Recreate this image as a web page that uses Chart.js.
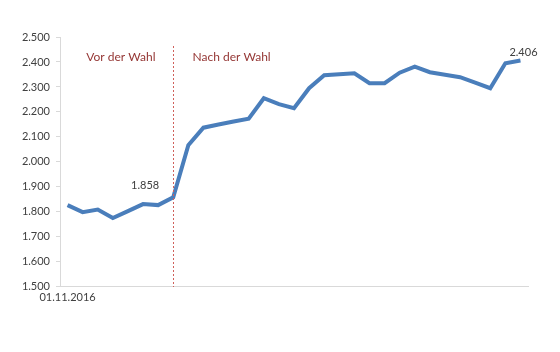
<!DOCTYPE html>
<html>
<head>
<meta charset="utf-8">
<script src="https://cdn.jsdelivr.net/npm/chart.js@4.4.0/dist/chart.umd.min.js"></script>
<style>
  html, body { margin: 0; padding: 0; background: #fff; }
  #wrap { width: 560px; height: 352px; }
</style>
</head>
<body>
<div id="wrap"><canvas id="chart" width="560" height="352"></canvas></div>
<script>
// Tage von 01.11.2016 bis 01.12.2016
const dates = [
  '01.11.2016', '02.11.2016', '03.11.2016', '04.11.2016', '05.11.2016', '06.11.2016',
  '07.11.2016', '08.11.2016', '09.11.2016', '10.11.2016', '11.11.2016', '12.11.2016',
  '13.11.2016', '14.11.2016', '15.11.2016', '16.11.2016', '17.11.2016', '18.11.2016',
  '19.11.2016', '20.11.2016', '21.11.2016', '22.11.2016', '23.11.2016', '24.11.2016',
  '25.11.2016', '26.11.2016', '27.11.2016', '28.11.2016', '29.11.2016', '30.11.2016',
  '01.12.2016'
];
const values = [
  1827, 1799, 1809, 1775, 1803, 1831, 1827, 1858, 2067, 2137, 2150,
  2162, 2173, 2255, 2231, 2215, 2295, 2347, 2351, 2355, 2315, 2315,
  2357, 2381, 2359, 2349, 2339, 2317, 2295, 2395, 2406
];
const yTicks = [1500, 1600, 1700, 1800, 1900, 2000, 2100, 2200, 2300, 2400, 2500];
const electionIndex = 7;
const sectionLabels = ['Vor der Wahl', 'Nach der Wahl'];
const labelledPoints = [7, 30];

const fmt = v => (v / 1000).toFixed(3);
const FONT = 'Lato, "Open Sans", sans-serif';

// gepunktete Linie, Abschnittstitel, Punktbeschriftungen
const annotations = {
  id: 'annotations',
  afterDatasetsDraw(chart) {
    const ctx = chart.ctx;
    const x = chart.scales.x;
    const y = chart.scales.y;
    const lineX = Math.round(x.getPixelForValue(electionIndex)) + 0.5;

    ctx.save();
    ctx.strokeStyle = '#d0605a';
    ctx.lineWidth = 1;
    ctx.setLineDash([2, 2]);
    ctx.beginPath();
    ctx.moveTo(lineX, Math.round(y.getPixelForValue(2465)));
    ctx.lineTo(lineX, Math.round(y.getPixelForValue(1500)));
    ctx.stroke();
    ctx.setLineDash([]);

    ctx.font = '12px ' + FONT;
    ctx.fillStyle = '#953735';
    ctx.textBaseline = 'middle';
    const ty = y.getPixelForValue(2420);
    ctx.textAlign = 'right';
    ctx.fillText(sectionLabels[0], lineX - 18, ty);
    ctx.textAlign = 'left';
    ctx.fillText(sectionLabels[1], lineX + 19, ty);

    ctx.font = '11px ' + FONT;
    ctx.fillStyle = '#404040';
    const pts = chart.getDatasetMeta(0).data;
    const p0 = pts[labelledPoints[0]];
    ctx.textAlign = 'right';
    ctx.fillText(fmt(values[labelledPoints[0]]), p0.x - 14, p0.y - 12);
    const p1 = pts[labelledPoints[1]];
    ctx.textAlign = 'center';
    ctx.fillText(fmt(values[labelledPoints[1]]), p1.x + 3, p1.y - 8);
    ctx.restore();
  }
};

new Chart(document.getElementById('chart'), {
  type: 'line',
  data: {
    labels: dates,
    datasets: [{
      data: values,
      borderColor: '#4a7ebb',
      borderWidth: 4,
      pointRadius: 0,
      tension: 0,
      fill: false
    }]
  },
  options: {
    responsive: false,
    animation: false,
    layout: { padding: { left: 0, right: 32, top: 37, bottom: 44 } },
    plugins: { legend: { display: false }, tooltip: { enabled: false } },
    scales: {
      x: {
        offset: true,
        grid: { display: false, drawTicks: false },
        border: { display: true, color: '#d9d9d9', width: 1 },
        ticks: {
          autoSkip: false,
          maxRotation: 0,
          padding: 4,
          color: '#404040',
          font: { family: FONT, size: 11 },
          callback: (v, i) => i === 0 ? dates[0] : ''
        }
      },
      y: {
        min: yTicks[0],
        max: yTicks[yTicks.length - 1],
        afterBuildTicks: s => { s.ticks = yTicks.map(v => ({ value: v })); },
        afterFit: s => { s.width = 60; },
        grid: { display: true, drawOnChartArea: false, tickLength: 4, color: '#d9d9d9' },
        border: { display: true, color: '#d9d9d9', width: 1 },
        ticks: {
          padding: 6,
          color: '#404040',
          font: { family: FONT, size: 11 },
          callback: v => fmt(v)
        }
      }
    }
  },
  plugins: [annotations]
});
</script>
</body>
</html>
